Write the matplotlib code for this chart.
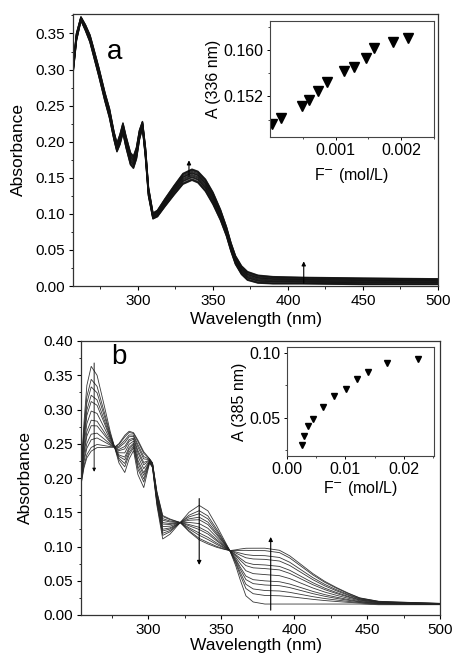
import numpy as np
import matplotlib
matplotlib.use("Agg")
import matplotlib.pyplot as plt
from matplotlib.ticker import MultipleLocator, FixedLocator, FormatStrFormatter

plt.rcParams['font.family'] = ['Liberation Sans', 'DejaVu Sans']

# ---------------- Panel a data ----------------
wl_a = [256, 259, 262, 265, 268, 270, 274, 278, 281, 284, 286, 288, 290, 292, 295, 297,
        299, 301, 303, 305, 307, 310, 313, 318, 324, 330, 336, 340, 345, 350, 355, 359,
        362, 365, 369, 373, 380, 390, 410, 450, 500]
abs_a_first = [0.280, 0.340, 0.368, 0.354, 0.338, 0.322, 0.290, 0.256, 0.233, 0.203, 0.186,
               0.196, 0.212, 0.192, 0.168, 0.163, 0.176, 0.203, 0.219, 0.178, 0.125, 0.093,
               0.096, 0.110, 0.126, 0.141, 0.1465, 0.143, 0.131, 0.113, 0.091, 0.069, 0.048,
               0.030, 0.016, 0.008, 0.004, 0.003, 0.003, 0.002, 0.002]
abs_a_last = [0.290, 0.350, 0.373, 0.362, 0.348, 0.333, 0.302, 0.268, 0.246, 0.214, 0.198,
              0.210, 0.226, 0.208, 0.185, 0.180, 0.192, 0.216, 0.228, 0.192, 0.137, 0.101,
              0.105, 0.121, 0.139, 0.156, 0.162, 0.159, 0.148, 0.130, 0.106, 0.082, 0.060,
              0.042, 0.028, 0.020, 0.015, 0.013, 0.012, 0.011, 0.010]
conc_a = [0.00003, 0.000175, 0.00049, 0.00059, 0.000725, 0.000875, 0.001125, 0.001275,
          0.00146, 0.00158, 0.001875, 0.0021]
a336 = [0.1472, 0.1483, 0.1504, 0.1514, 0.1530, 0.1545, 0.1563, 0.1571, 0.1587, 0.1603,
        0.1613, 0.1620]

# ---------------- Panel b data ----------------
wl_b = [254, 256, 258, 261, 265, 270, 274, 277, 280, 284, 287, 290, 293, 297, 301, 303,
        306, 310, 315, 322, 328, 335, 341, 347, 352, 356, 360, 363, 367, 372, 380, 390,
        397, 405, 413, 421, 429, 437, 445, 458, 470, 485, 500]
abs_b_first = [0.210, 0.280, 0.335, 0.363, 0.350, 0.305, 0.268, 0.245, 0.222, 0.208, 0.228,
               0.240, 0.205, 0.186, 0.222, 0.215, 0.160, 0.111, 0.118, 0.135, 0.150, 0.160,
               0.152, 0.130, 0.110, 0.094, 0.072, 0.052, 0.028, 0.019, 0.016, 0.016, 0.016,
               0.016, 0.016, 0.016, 0.016, 0.016, 0.016, 0.015, 0.015, 0.015, 0.015]
abs_b_last = [0.190, 0.215, 0.230, 0.240, 0.245, 0.245, 0.245, 0.245, 0.250, 0.262, 0.268,
              0.266, 0.255, 0.238, 0.228, 0.222, 0.180, 0.145, 0.140, 0.135, 0.122, 0.110,
              0.104, 0.099, 0.096, 0.094, 0.095, 0.096, 0.097, 0.097, 0.097, 0.094, 0.086,
              0.073, 0.060, 0.049, 0.040, 0.032, 0.025, 0.020, 0.019, 0.018, 0.017]
conc_b = [0.00252, 0.00291, 0.00355, 0.00451, 0.00623, 0.00806, 0.01007, 0.01195,
          0.01394, 0.01710, 0.02241]
a385 = [0.0283, 0.0354, 0.0433, 0.0492, 0.0582, 0.0668, 0.0720, 0.0800, 0.0853, 0.0925,
        0.0960]


def titration_curves(wl, first, last, conc_abs, probe):
    first = np.asarray(first)
    last = np.asarray(last)
    p0 = np.interp(probe, wl, first)
    p1 = np.interp(probe, wl, last)
    fr = [0.0] + [(v - p0) / (p1 - p0) for v in conc_abs]
    return [first + f * (last - first) for f in fr]


W, H = 455, 655
fig = plt.figure(figsize=(W / 100, H / 100), dpi=100)

axA = fig.add_axes([73 / W, 1 - 286 / H, 365 / W, 272 / H])
axB = fig.add_axes([81 / W, 1 - 615 / H, 359 / W, 274 / H])
insA = fig.add_axes([270 / W, 1 - 137 / H, 164 / W, 116 / H])
insB = fig.add_axes([287 / W, 1 - 456 / H, 147 / W, 109 / H])

TICK = 11
LAB = 12.5

# panel a curves
for c in titration_curves(wl_a, abs_a_first, abs_a_last, a336, 336):
    axA.plot(wl_a, c, color='#111111', lw=1.0, alpha=0.85)
axA.set_xlim(256.7, 500)
axA.set_ylim(0, 0.377)
axA.xaxis.set_major_locator(FixedLocator([300, 350, 400, 450, 500]))
axA.xaxis.set_minor_locator(MultipleLocator(25))
axA.yaxis.set_major_locator(MultipleLocator(0.05))
axA.yaxis.set_minor_locator(MultipleLocator(0.025))
axA.yaxis.set_major_formatter(FormatStrFormatter('%.2f'))
axA.set_ylabel('Absorbance', fontsize=LAB)
axA.set_xlabel('Wavelength (nm)', fontsize=LAB)
axA.yaxis.set_label_coords(-0.128, 0.5)
axA.xaxis.set_label_coords(0.5, -0.095)
axA.annotate('', xy=(334, 0.178), xytext=(334, 0.148),
             arrowprops=dict(arrowstyle='-|>', color='k', lw=0.8, mutation_scale=6))
axA.annotate('', xy=(410.5, 0.038), xytext=(410.5, 0.0),
             arrowprops=dict(arrowstyle='-|>', color='k', lw=0.8, mutation_scale=6))

# panel b curves
for c in titration_curves(wl_b, abs_b_first, abs_b_last, a385, 385):
    axB.plot(wl_b, c, color='#222222', lw=0.6, alpha=0.9)
axB.set_xlim(254, 500)
axB.set_ylim(0, 0.40)
axB.xaxis.set_major_locator(FixedLocator([300, 350, 400, 450, 500]))
axB.xaxis.set_minor_locator(MultipleLocator(25))
axB.yaxis.set_major_locator(MultipleLocator(0.05))
axB.yaxis.set_minor_locator(MultipleLocator(0.025))
axB.yaxis.set_major_formatter(FormatStrFormatter('%.2f'))
axB.set_ylabel('Absorbance', fontsize=LAB)
axB.set_xlabel('Wavelength (nm)', fontsize=LAB)
axB.yaxis.set_label_coords(-0.135, 0.5)
axB.xaxis.set_label_coords(0.487, -0.083)
axB.annotate('', xy=(335, 0.069), xytext=(335, 0.174),
             arrowprops=dict(arrowstyle='-|>', color='k', lw=0.8, mutation_scale=6))
axB.annotate('', xy=(384, 0.118), xytext=(384, 0.003),
             arrowprops=dict(arrowstyle='-|>', color='k', lw=0.8, mutation_scale=6))
axB.annotate('', xy=(263, 0.205), xytext=(263, 0.372),
             arrowprops=dict(arrowstyle='-|>', color='k', lw=0.6, mutation_scale=5))

for ax in (axA, axB):
    ax.tick_params(which='major', direction='out', length=3, width=0.8,
                   labelsize=TICK, pad=2.5)
    ax.tick_params(which='minor', direction='out', length=1.8, width=0.6)
    for s in ax.spines.values():
        s.set_linewidth(0.9)
        s.set_color('#333333')

fig.text(115 / W, 1 - 52 / H, 'a', fontsize=20, ha='center', va='center')
fig.text(119 / W, 1 - 357 / H, 'b', fontsize=20, ha='center', va='center')

# inset a
insA.plot(conc_a, a336, linestyle='none', marker='v', color='k', markersize=6.5)
insA.set_xlim(0, 0.0025)
insA.set_ylim(0.145, 0.165)
insA.xaxis.set_major_locator(FixedLocator([0.001, 0.002]))
insA.xaxis.set_minor_locator(FixedLocator([0.0005, 0.0015, 0.0025]))
insA.yaxis.set_major_locator(FixedLocator([0.152, 0.160]))
insA.yaxis.set_minor_locator(FixedLocator([0.148, 0.156, 0.164]))
insA.xaxis.set_major_formatter(FormatStrFormatter('%.3f'))
insA.yaxis.set_major_formatter(FormatStrFormatter('%.3f'))
insA.set_ylabel('A (336 nm)', fontsize=11.5)
insA.set_xlabel('F$^{-}$ (mol/L)', fontsize=11.5)
insA.yaxis.set_label_coords(-0.30, 0.5)
insA.xaxis.set_label_coords(0.5, -0.25)

# inset b
insB.plot(conc_b, a385, linestyle='none', marker='v', color='k', markersize=4.5)
insB.set_xlim(0, 0.0252)
insB.set_ylim(0.020, 0.105)
insB.xaxis.set_major_locator(FixedLocator([0.0, 0.01, 0.02]))
insB.xaxis.set_minor_locator(FixedLocator([0.005, 0.015, 0.025]))
insB.yaxis.set_major_locator(FixedLocator([0.05, 0.10]))
insB.yaxis.set_minor_locator(FixedLocator([0.025, 0.075]))
insB.xaxis.set_major_formatter(FormatStrFormatter('%.2f'))
insB.yaxis.set_major_formatter(FormatStrFormatter('%.2f'))
insB.set_ylabel('A (385 nm)', fontsize=11.5)
insB.set_xlabel('F$^{-}$ (mol/L)', fontsize=11.5)
insB.yaxis.set_label_coords(-0.27, 0.5)
insB.xaxis.set_label_coords(0.5, -0.215)

for ax in (insA, insB):
    ax.tick_params(which='major', direction='out', length=2.5, width=0.7,
                   labelsize=11.5, pad=2)
    ax.tick_params(which='minor', direction='out', length=1.5, width=0.5)
    for s in ax.spines.values():
        s.set_linewidth(0.8)
        s.set_color('#444444')

fig.savefig('out.png', dpi=100)
